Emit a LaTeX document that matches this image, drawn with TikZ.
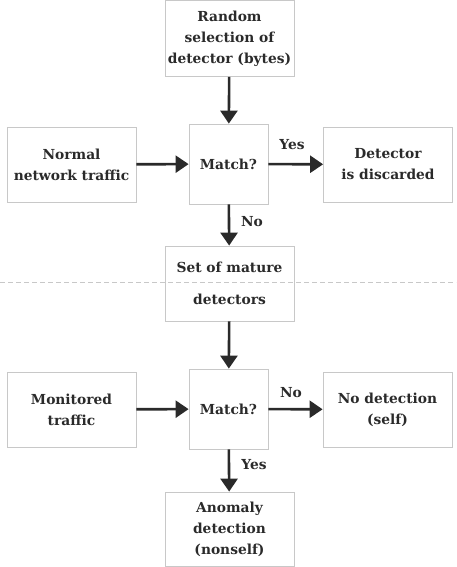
\documentclass[tikz,border=0pt]{standalone}
\usepackage{fontspec}
\setmainfont{DejaVu Serif}
\usetikzlibrary{arrows.meta}
\definecolor{txt}{HTML}{2A2A2A}
\definecolor{edge}{HTML}{C8C8C8}
\begin{document}
\begin{tikzpicture}[x=1pt,y=-1pt,
  box/.style={draw=edge,line width=0.8pt,minimum width=129pt,minimum height=75pt,inner sep=0pt,align=center,text=txt,font=\fontsize{13.8}{21}\selectfont\bfseries},
  qbox/.style={box,minimum width=79pt,minimum height=80pt},
  conn/.style={draw=txt,line width=2.6pt,-{Triangle[length=13pt,width=17pt]}},
  lab/.style={text=txt,font=\fontsize{13.8}{16}\selectfont\bfseries,inner sep=0pt}]
\useasboundingbox (0,0) rectangle (456,567);
\node[box,minimum height=76pt] (rand) at (229.5,38.5) {Random\\selection of\\detector (bytes)};
\node[qbox] (m1) at (228.5,164) {Match?};
\node[box] (normal) at (71.5,164.5) {Normal\\network traffic};
\node[box] (disc) at (388,164.5) {Detector\\is discarded};
\node[box,font=\fontsize{13.8}{32}\selectfont\bfseries] (set) at (229.5,283.5) {Set of mature\\detectors};
\node[qbox] (m2) at (228.5,409) {Match?};
\node[box] (mon) at (71.5,409.5) {Monitored\\traffic};
\node[box] (nodet) at (387.5,409.5) {No detection\\(self)};
\node[box,minimum height=74pt] (anom) at (229.5,529) {Anomaly\\detection\\(nonself)};
\draw[edge,line width=0.7pt,dash pattern=on 5pt off 3pt] (0,282) coordinate (dl) -- (456,282) coordinate (dr);
\draw[conn] (rand) -- (m1);
\draw[conn] (normal) -- (m1);
\draw[conn] (m1) -- (disc);
\draw[conn] (m1) -- (set);
\draw[conn] (set) -- (m2);
\draw[conn] (mon) -- (m2);
\draw[conn] (m2) -- (nodet);
\draw[conn] (m2) -- (anom);
\node[lab] (l1) at (292,145) {Yes};
\node[lab] (l2) at (252,222) {No};
\node[lab] (l3) at (291,393) {No};
\node[lab] (l4) at (254,465) {Yes};
\end{tikzpicture}
\end{document}
